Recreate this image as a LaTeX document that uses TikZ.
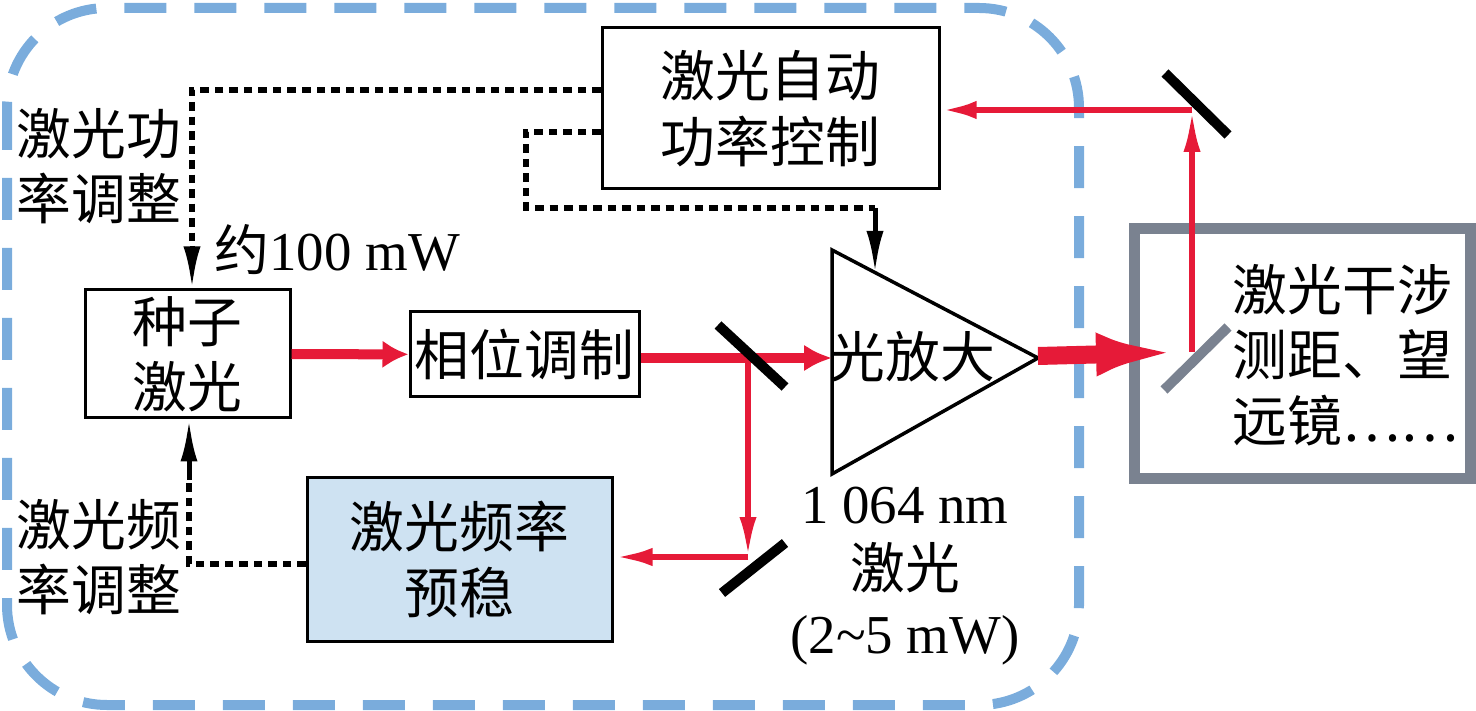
\documentclass[tikz,border=0pt]{standalone}
\usepackage{fontspec}
\setmainfont{Liberation Serif}
\newfontfamily\cjk{Noto Sans CJK SC}
\usetikzlibrary{arrows.meta}

\definecolor{beam}{RGB}{230,26,56}
\definecolor{boundary}{RGB}{122,172,220}
\definecolor{frame}{RGB}{122,130,144}
\definecolor{freqfill}{RGB}{206,226,242}
\newcommand{\zhfont}{\fontsize{15.6}{18.6}\selectfont\cjk}

\tikzset{
  zh/.style={inner sep=0pt, align=center, font=\zhfont},
  box/.style={zh, draw, line width=0.03cm},
  ctrl/.style={line width=0.055cm, dash pattern=on 0.085cm off 0.06cm},
  sig/.style={line width=0.05cm, -{Latex[length=0.42cm,width=0.17cm]}},
  laser/.style={beam, line width=#1},
  mirror/.style={line width=0.1cm},
}

\begin{document}
\begin{tikzpicture}[font=\fontsize{15.6}{18.6}\selectfont]
    \useasboundingbox (0,0) rectangle (14.76,-7.11);
    % dashed enclosure
    \draw[boundary, line width=0.1cm, rounded corners=1cm, dash pattern=on 0.42cm off 0.28cm] (0.07,-0.08) rectangle (10.79,-7.05);

    % boxes
    \node[box, minimum width=2.05cm, minimum height=1.28cm] (seed) at (1.875,-3.54) {种子\\激光};
    \node[box, minimum width=2.29cm, minimum height=0.85cm] (phase) at (5.245,-3.545) {相位调制};
    \node[box, minimum width=3.37cm, minimum height=1.61cm] (apc) at (7.705,-1.085) {激光自动\\功率控制};
    \node[box, fill=freqfill, minimum width=3.05cm, minimum height=1.63cm] (freq) at (4.595,-5.595) {激光频率\\预稳};
    \node[draw=frame, line width=0.11cm, minimum width=3.36cm, minimum height=2.5cm] (ifm) at (13.02,-3.54) {};
    \node[zh, anchor=west, align=left] (ifmtext) at (12.32,-3.55) {激光干涉\\测距、望\\远镜……};

    % amplifier
    \draw[line width=0.035cm] (8.32,-2.50) -- (8.32,-4.74) -- (10.38,-3.58) -- cycle;
    \node[zh] (amptext) at (9.13,-3.57) {光放大};
    \coordinate (ampin) at (8.32,-3.58);
    \coordinate (ampout) at (10.38,-3.56);
    \coordinate (amptop) at (8.75,-2.73);

    % labels
    \node[zh] (powadj) at (0.99,-1.66) {激光功\\率调整};
    \node[zh] (freqadj) at (0.99,-5.57) {激光频\\率调整};
    \node[anchor=west, inner sep=0pt] (seedpow) at (2.14,-2.50) {{\cjk 约}100 mW};
    \node[align=center, inner sep=0pt] (outpow) at (9.05,-5.76) {1 064 nm\\{\cjk 激光}\\(2\textasciitilde5 mW)};

    % beams
    \coordinate (split) at (7.48,-3.58);
    \coordinate (split2) at (7.48,-5.57);
    \coordinate (beamsp) at (11.92,-3.52);
    \coordinate (topm) at (11.92,-1.10);
    \draw[laser=0.1cm, -{Latex[length=0.26cm,width=0.28cm]}] (seed) -- (phase);
    \draw[laser=0.1cm, -{Latex[length=0.28cm,width=0.27cm]}] (phase.east |- split) -- (ampin);
    \draw[laser=0.055cm, -{Latex[length=0.40cm,width=0.17cm]}] (split) -- (split2);
    \draw[laser=0.065cm, -{Latex[length=0.39cm,width=0.18cm]}] (split2) -- (freq.east |- split2);
    \draw[laser=0.18cm, -{Latex[length=0.96cm,width=0.41cm]}] (ampout) -- (beamsp);
    \draw[laser=0.055cm, -{Latex[length=0.42cm,width=0.17cm]}] (beamsp) -- (topm);
    \draw[laser=0.065cm, -{Latex[length=0.36cm,width=0.18cm]}] (topm) -- (apc.east |- topm);

    % mirrors
    \draw[mirror] (7.18,-3.25) -- (7.85,-3.87);
    \draw[mirror] (7.22,-5.93) -- (7.85,-5.43);
    \draw[mirror] (11.65,-0.73) -- (12.28,-1.35);
    \draw[mirror, frame] (11.64,-3.90) -- (12.28,-3.27);

    % control lines
    \coordinate (pwbend) at (1.92,-0.90);
    \coordinate (pwsolid) at (1.92,-2.46);
    \draw[ctrl] (apc.west |- pwbend) -- (pwbend) -- (pwsolid);
    \draw[sig] (pwsolid) -- (seed.north -| pwbend);

    \coordinate (apcbend1) at (5.26,-1.32);
    \coordinate (apcbend2) at (5.26,-2.08);
    \coordinate (apcbend3) at (8.75,-2.08);
    \draw[ctrl] (apc.west |- apcbend1) -- (apcbend1) -- (apcbend2) -- (apcbend3);
    \draw[sig] (apcbend3) -- (amptop);

    \coordinate (frbend) at (1.89,-5.64);
    \coordinate (frsolid) at (1.89,-4.80);
    \draw[ctrl] (freq.west |- frbend) -- (frbend) -- (frsolid);
    \draw[sig] (frsolid) -- (seed.south -| frbend);
\end{tikzpicture}
\end{document}
